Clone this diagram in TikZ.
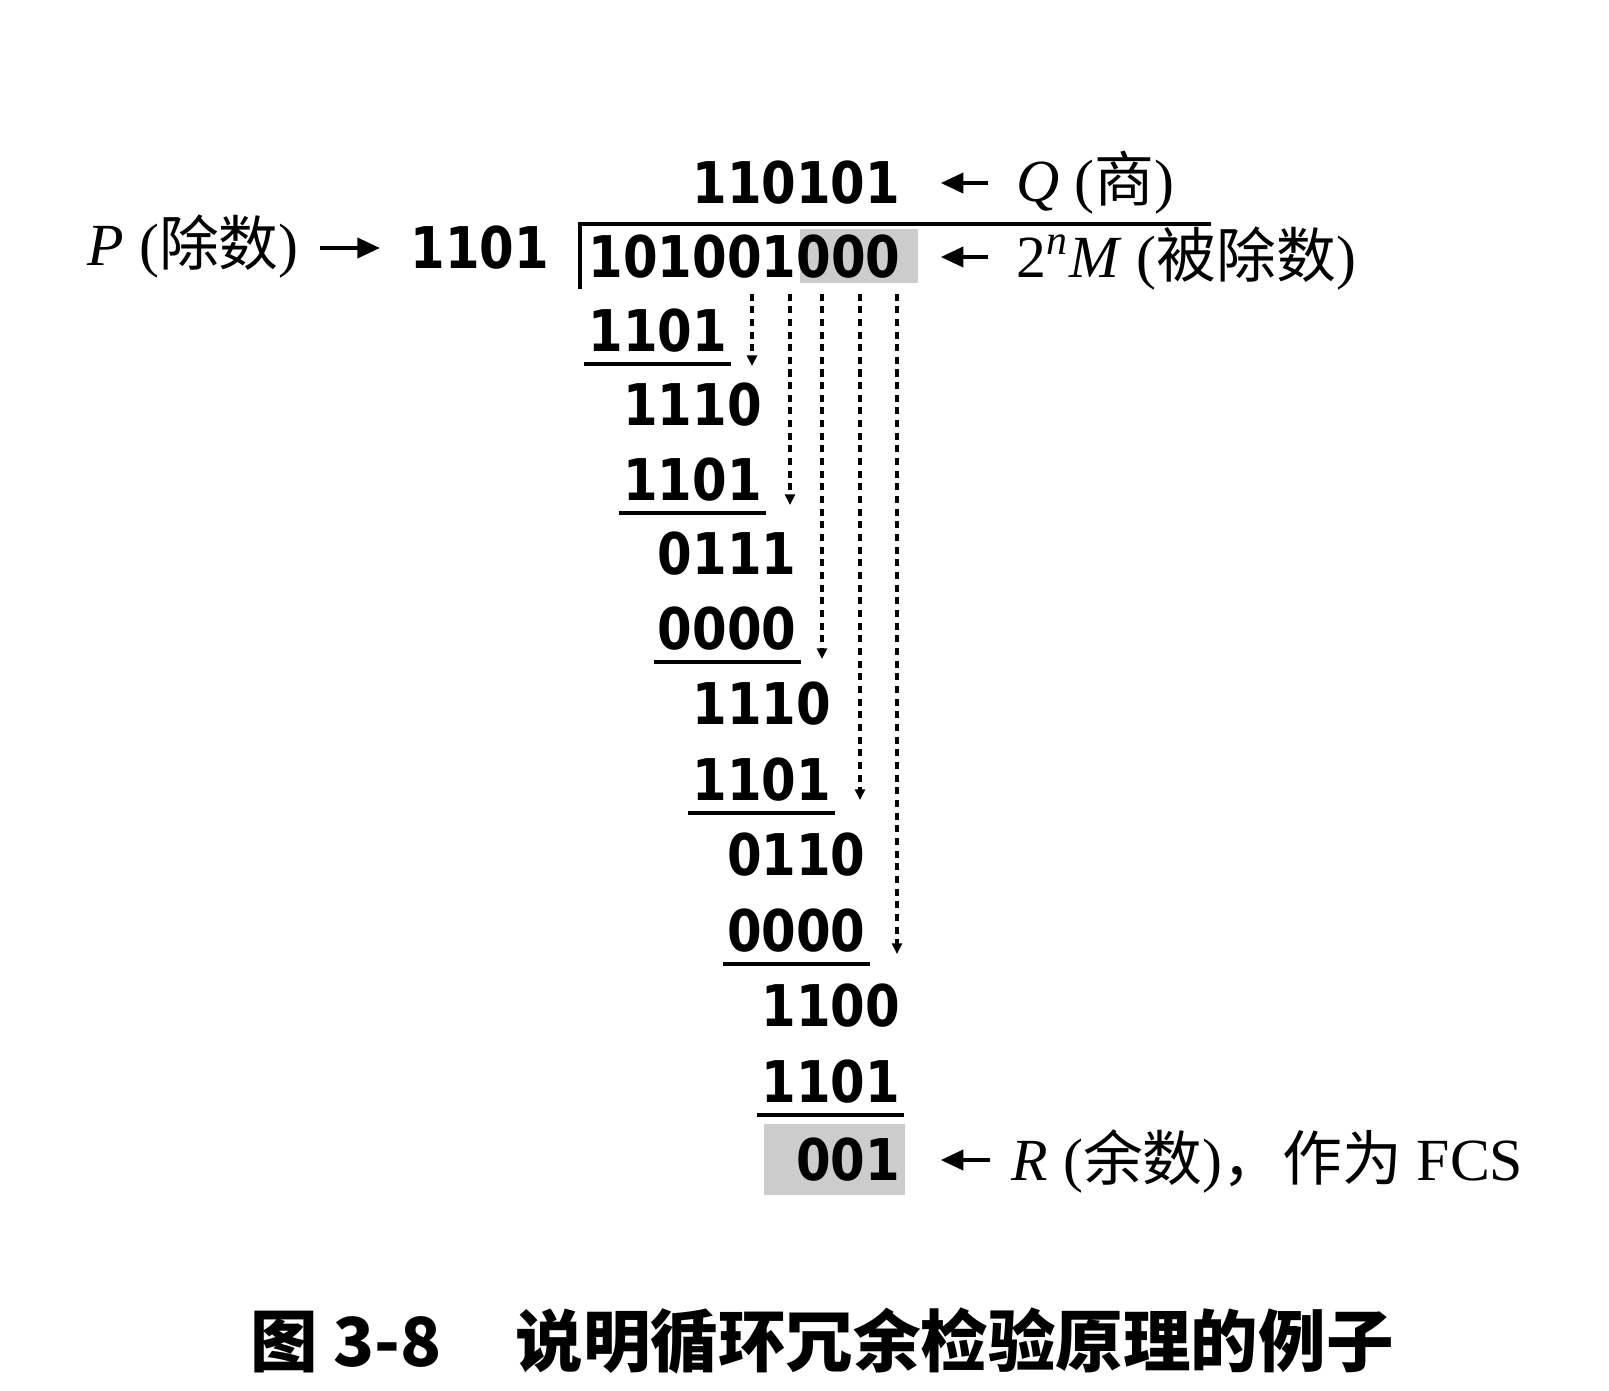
\documentclass[tikz,border=0pt]{standalone}
\usepackage{fontspec}
\usepackage{tikz}
\usetikzlibrary{calc}
\usetikzlibrary{arrows.meta}
\setmainfont{Liberation Serif}
\newfontfamily\cjk{Noto Sans CJK SC}
\newfontfamily\bitfont{DejaVu Sans}[FakeStretch=0.865]
\definecolor{cccccc}{rgb}{0.8,0.8,0.8}
\tikzstyle{bits}=[inner sep=0pt,anchor=west,font=\bitfont\bfseries\fontsize{16.35}{18}\selectfont]
\tikzstyle{lab}=[inner sep=0pt,anchor=base west,font=\fontsize{17}{20}\selectfont]
\tikzstyle{uline}=[line width=1.1pt]
\tikzstyle{arr}=[-{Triangle[length=6.5pt,width=5.6pt]},line width=1.4pt]
\tikzstyle{bring}=[-{Triangle[length=3pt,width=2.8pt]},line width=1pt,dash pattern=on 2pt off 1.6pt]

\begin{document}
\begin{tikzpicture}[line cap=butt,line join=miter,x=0.01cm,y=-0.01cm]
            \useasboundingbox (0,0) rectangle (1609,1390);
            % shaded digits
            \fill[color=cccccc] (800,229) rectangle (918,283);
            \fill[color=cccccc] (764,1124) rectangle (905,1195);
            % division bracket
            \draw [line width=1pt] (580,289) -- (580,224) -- (1211,224);
            % numbers
            \node[bits] (quot) at (691.8,183) {110101};
            \node[bits] (dvs) at (410,248) {1101};
            \node[bits] (dvd) at (588,257) {101001000};
            \node[bits] (r1) at (588,331) {1101};
            \node[bits] (r2) at (622.6,405) {1110};
            \node[bits] (r3) at (622.6,480) {1101};
            \node[bits] (r4) at (657.2,554) {0111};
            \node[bits] (r5) at (657.2,629) {0000};
            \node[bits] (r6) at (691.8,704) {1110};
            \node[bits] (r7) at (691.8,780) {1101};
            \node[bits] (r8) at (726.4,855) {0110};
            \node[bits] (r9) at (726.4,931) {0000};
            \node[bits] (r10) at (761,1006) {1100};
            \node[bits] (r11) at (761,1082) {1101};
            \node[bits] (r12) at (795.6,1160) {001};
            % rules under the subtractions
            \draw [uline] ([xshift=-1pt,yshift=-3pt]r1.south west) -- ([xshift=1pt,yshift=-3pt]r1.south east);
            \draw [uline] ([xshift=-1pt,yshift=-3pt]r3.south west) -- ([xshift=1pt,yshift=-3pt]r3.south east);
            \draw [uline] ([xshift=-1pt,yshift=-3pt]r5.south west) -- ([xshift=1pt,yshift=-3pt]r5.south east);
            \draw [uline] ([xshift=-1pt,yshift=-3pt]r7.south west) -- ([xshift=1pt,yshift=-3pt]r7.south east);
            \draw [uline] ([xshift=-1pt,yshift=-3pt]r9.south west) -- ([xshift=1pt,yshift=-3pt]r9.south east);
            \draw [uline] ([xshift=-1pt,yshift=-3pt]r11.south west) -- ([xshift=1pt,yshift=-3pt]r11.south east);
            % digits brought down
            \coordinate (e4) at (752,366);
            \coordinate (e5) at (790,505);
            \coordinate (e6) at (822,659);
            \coordinate (e7) at (860,800);
            \coordinate (e8) at (897,954);
            \draw [bring,shorten <=4pt] (dvd.south -| e4) -- (e4);
            \draw [bring,shorten <=4pt] (dvd.south -| e5) -- (e5);
            \draw [bring,shorten <=4pt] (dvd.south -| e6) -- (e6);
            \draw [bring,shorten <=4pt] (dvd.south -| e7) -- (e7);
            \draw [bring,shorten <=4pt] (dvd.south -| e8) -- (e8);
            % labels
            \node[lab] (plab) at (87,265) {\textit{P} ({\cjk 除数})};
            \node[lab] (qlab) at (1016,201) {\textit{Q} ({\cjk 商})};
            \node[lab] (mlab) at (1016,277) {2\textsuperscript{\textit{n}}\textit{M} ({\cjk 被除数})};
            \node[lab] (rlab) at (1011,1180) {\textit{R} ({\cjk 余数}){\cjk ，作为} FCS};
            \draw [arr,shorten <=6pt,shorten >=8.5pt] (plab.east |- dvs.west) -- (dvs.west);
            \draw [arr,shorten <=8pt,shorten >=11.3pt] (qlab.west |- quot.east) -- (quot.east);
            \draw [arr,shorten <=8pt,shorten >=11.3pt] (mlab.west |- dvd.east) -- (dvd.east);
            \draw [arr,shorten <=6pt,shorten >=11.3pt] (rlab.west |- r12.east) -- (r12.east);
            % caption
            \node[inner sep=0pt,font=\cjk\bfseries\fontsize{19.2}{22}\selectfont] (cap) at (822,1341) {图 3-8\hspace{1.1em}说明循环冗余检验原理的例子};
\end{tikzpicture}
\end{document}
